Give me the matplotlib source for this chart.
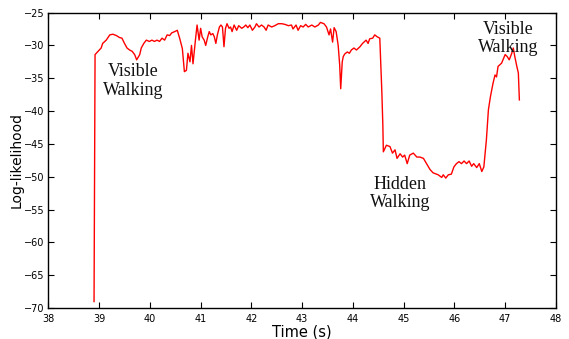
import numpy as np
import matplotlib
matplotlib.use('Agg')
import matplotlib.pyplot as plt

# values
time_s = [38.90, 38.92, 38.98, 39.04, 39.07, 39.14, 39.21, 39.27, 39.34, 39.40,
          39.45, 39.50, 39.55, 39.60, 39.65, 39.70, 39.74, 39.80, 39.83, 39.88,
          39.93, 39.99, 40.04, 40.09, 40.14, 40.19, 40.24, 40.29, 40.34, 40.39,
          40.43, 40.49, 40.54, 40.59, 40.64, 40.68, 40.72, 40.75, 40.79, 40.82,
          40.85, 40.90, 40.93, 40.97, 41.00, 41.03, 41.07, 41.10, 41.14, 41.17,
          41.20, 41.24, 41.27, 41.30, 41.33, 41.37, 41.40, 41.43, 41.46, 41.49,
          41.52, 41.56, 41.59, 41.62, 41.66, 41.71, 41.75, 41.81, 41.85, 41.89,
          41.93, 41.97, 42.02, 42.07, 42.10, 42.15, 42.20, 42.25, 42.29, 42.33,
          42.40, 42.46, 42.53, 42.60, 42.66, 42.73, 42.79, 42.82, 42.88, 42.92,
          42.97, 43.02, 43.07, 43.12, 43.19, 43.25, 43.32, 43.36, 43.43, 43.48,
          43.53, 43.56, 43.60, 43.63, 43.67, 43.71, 43.74, 43.76, 43.79, 43.81,
          43.84, 43.89, 43.93, 43.97, 44.02, 44.07, 44.14, 44.19, 44.26, 44.30,
          44.33, 44.39, 44.43, 44.48, 44.53, 44.54, 44.57, 44.59, 44.60, 44.66,
          44.73, 44.78, 44.83, 44.87, 44.93, 44.98, 45.02, 45.07, 45.12, 45.19,
          45.26, 45.32, 45.39, 45.45, 45.52, 45.58, 45.68, 45.75, 45.78, 45.83,
          45.88, 45.94, 45.99, 46.04, 46.09, 46.14, 46.19, 46.24, 46.29, 46.34,
          46.38, 46.44, 46.49, 46.54, 46.58, 46.63, 46.67, 46.71, 46.76, 46.80,
          46.83, 46.86, 46.93, 47.00, 47.04, 47.08, 47.13, 47.16, 47.19, 47.23,
          47.26, 47.28]
log_lik = [-69.0, -31.4, -30.9, -30.4, -29.7, -29.2, -28.4, -28.3, -28.5, -28.8,
           -28.9, -29.7, -30.4, -30.7, -30.9, -31.4, -32.2, -31.4, -30.4, -29.7,
           -29.2, -29.4, -29.2, -29.4, -29.2, -29.4, -28.9, -29.2, -28.4, -28.5,
           -28.1, -27.9, -27.7, -29.0, -30.5, -34.0, -33.8, -31.2, -32.5, -30.0,
           -32.8, -29.0, -26.9, -29.2, -27.4, -28.7, -29.2, -30.0, -28.7, -27.9,
           -28.4, -28.2, -28.7, -29.7, -28.4, -27.2, -26.9, -27.2, -30.2, -27.4,
           -26.7, -27.4, -27.2, -27.9, -26.9, -27.7, -27.0, -27.4, -27.2, -26.9,
           -27.3, -26.9, -27.7, -27.2, -26.7, -27.2, -26.9, -27.2, -27.7, -26.9,
           -27.2, -27.0, -26.7, -26.7, -26.8, -27.0, -26.9, -27.5, -26.9, -27.7,
           -27.0, -27.2, -26.8, -27.2, -26.9, -27.2, -26.9, -26.5, -26.7, -27.2,
           -28.4, -27.5, -29.5, -27.3, -27.9, -30.0, -33.0, -36.6, -32.5, -31.7,
           -31.3, -31.0, -31.2, -30.7, -30.4, -30.7, -30.2, -29.7, -29.2, -29.7,
           -29.0, -28.9, -28.4, -28.7, -28.9, -30.9, -37.0, -42.1, -46.2, -45.2,
           -45.4, -46.4, -45.9, -47.2, -46.5, -47.0, -46.7, -48.0, -46.7, -46.4,
           -47.0, -47.0, -47.2, -48.0, -48.9, -49.4, -49.7, -50.1, -49.7, -50.2,
           -49.7, -49.6, -48.5, -48.0, -47.7, -48.0, -47.6, -48.0, -47.6, -48.4,
           -48.0, -48.6, -48.0, -49.2, -48.5, -44.4, -39.8, -37.8, -35.8, -34.5,
           -34.8, -33.2, -32.7, -31.4, -31.7, -32.2, -31.2, -30.4, -31.7, -33.2,
           -34.2, -38.3]

labels = ['Visible\nWalking', 'Hidden\nWalking', 'Visible\nWalking']
label_t = [39.67, 44.93, 47.06]
label_y = [-35.4, -52.5, -28.9]


def main():
    fig = plt.figure(facecolor='w', figsize=(5.69, 3.39), dpi=100)
    ax = fig.add_axes([0.085, 0.091, 0.892, 0.872])

    ax.plot(time_s, log_lik, color='r', linewidth=1.0)

    for s, t, y in zip(labels, label_t, label_y):
        ax.text(t, y, s, ha='center', va='center', fontsize=13,
                family='Liberation Serif', linespacing=1.1, color='#111111')

    ax.axis([38, 48, -70, -25])
    ax.set_xticks(np.arange(38, 49, 1))
    ax.set_yticks(np.arange(-70, -24, 5))
    ax.tick_params(direction='in', top=True, right=True, labelsize=7,
                   length=4, width=0.8)
    ax.tick_params(axis='x', pad=4.5)
    ax.tick_params(axis='y', pad=3)
    for sp in ax.spines.values():
        sp.set_linewidth(1.0)

    ax.set_xlabel('Time (s)', fontsize=10.5, va='center')
    ax.set_ylabel('Log-likelihood', fontsize=10, va='center')
    ax.xaxis.set_label_coords(0.5, -0.079)
    ax.yaxis.set_label_coords(-0.062, 0.5)

    fig.savefig('out.png', dpi=100, facecolor='w')
    plt.close('all')


if __name__ == '__main__':
    main()
